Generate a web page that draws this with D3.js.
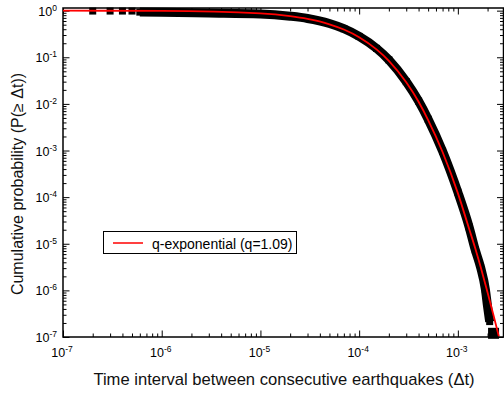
<!DOCTYPE html>
<html>
<head>
<meta charset="utf-8">
<script src="https://cdn.jsdelivr.net/npm/d3@7"></script>
<style>
  body { margin: 0; background: #fff; }
  svg { display: block; font-family: "Liberation Sans", Arial, sans-serif; }
</style>
</head>
<body>
<script>
// isolated squares at the smallest intervals
const sparseT = [2e-7, 3e-7, 4e-7, 5e-7];
const sparseP = [0.98, 0.98, 0.98, 0.98];

// dense part of the data (centre of the black band)
const bandT = [6e-7, 1e-6, 3e-6, 1e-5, 2e-5, 3e-5, 5e-5, 7e-5, 1e-4, 1.5e-4, 2e-4, 3e-4, 4e-4, 5e-4,
  7e-4, 1e-3, 1.3e-3, 1.5e-3, 1.7e-3, 1.9e-3, 2.0e-3, 2.1e-3];
const bandP = [0.93, 0.92, 0.89, 0.85, 0.76, 0.68, 0.53, 0.41, 0.28, 0.155, 0.088, 0.030, 0.0115, 0.0047,
  0.00097, 1.28e-4, 2.3e-5, 7.4e-6, 3.1e-6, 1.05e-6, 4.5e-7, 2.14e-7];

// last point at the bottom
const lastT = [2.3e-3];
const lastP = [1.2e-7];

// q-exponential fit (q = 1.09)
const fitT = [1e-7, 1e-6, 1e-5, 2e-5, 3e-5, 5e-5, 7e-5, 1e-4, 1.5e-4, 2e-4, 3e-4, 4e-4, 5e-4, 7e-4,
  1e-3, 1.3e-3, 1.5e-3, 1.7e-3, 2e-3, 2.3e-3, 2.6e-3];
const fitP = [1.0, 0.986, 0.871, 0.76, 0.664, 0.51, 0.394, 0.27, 0.148, 0.084, 0.029, 0.0111, 0.0045, 0.00093,
  1.22e-4, 2.1e-5, 8.0e-6, 3.2e-6, 9.0e-7, 2.9e-7, 1.04e-7];

const xExps = [-7, -6, -5, -4, -3];
const yExps = [0, -1, -2, -3, -4, -5, -6, -7];
const legendLabel = 'q-exponential (q=1.09)';

const width = 504;
const height = 394;
const margin = { top: 8, right: 0.5, bottom: 57, left: 63 };

const x = d3.scaleLog()
  .domain([1e-7, 2.9e-3])
  .range([margin.left, width - margin.right]);

const y = d3.scaleLog()
  .domain([1e-7, 1.14])
  .range([height - margin.bottom, margin.top]);

const svg = d3.select('body').append('svg')
  .attr('width', width)
  .attr('height', height);

// tick positions
const majorX = xExps.map(e => Math.pow(10, e));
const minorX = [];
for (let e = -7; e <= -3; e++) {
  for (let k = 2; k <= 9; k++) {
    const v = k * Math.pow(10, e);
    if (v <= x.domain()[1]) minorX.push(v);
  }
}
const majorY = yExps.map(e => Math.pow(10, e));
const minorY = [];
for (let e = -7; e <= -1; e++) {
  for (let k = 2; k <= 9; k++) minorY.push(k * Math.pow(10, e));
}

const x0 = margin.left;
const x1 = width - margin.right;
const y0 = height - margin.bottom;
const y1 = margin.top;

function ticks(g, axis) {
  g.call(axis);
  g.select('.domain').remove();
  g.selectAll('line').attr('stroke', '#000').attr('stroke-width', 1);
}

// bottom & top
svg.append('g').attr('transform', `translate(0,${y0})`)
  .call(g => ticks(g, d3.axisBottom(x).tickValues(minorX).tickSize(-3.5).tickFormat('')));
svg.append('g').attr('transform', `translate(0,${y0})`)
  .call(g => ticks(g, d3.axisBottom(x).tickValues(majorX).tickSize(-6.5).tickFormat('')));
svg.append('g').attr('transform', `translate(0,${y1})`)
  .call(g => ticks(g, d3.axisTop(x).tickValues(minorX).tickSize(-3.5).tickFormat('')));
svg.append('g').attr('transform', `translate(0,${y1})`)
  .call(g => ticks(g, d3.axisTop(x).tickValues(majorX).tickSize(-6.5).tickFormat('')));

// left & right
svg.append('g').attr('transform', `translate(${x0},0)`)
  .call(g => ticks(g, d3.axisLeft(y).tickValues(minorY).tickSize(-3.5).tickFormat('')));
svg.append('g').attr('transform', `translate(${x0},0)`)
  .call(g => ticks(g, d3.axisLeft(y).tickValues(majorY).tickSize(-6.5).tickFormat('')));
svg.append('g').attr('transform', `translate(${x1},0)`)
  .call(g => ticks(g, d3.axisRight(y).tickValues(minorY).tickSize(-3.5).tickFormat('')));
svg.append('g').attr('transform', `translate(${x1},0)`)
  .call(g => ticks(g, d3.axisRight(y).tickValues(majorY).tickSize(-6.5).tickFormat('')));

svg.append('rect')
  .attr('x', x0).attr('y', y1)
  .attr('width', x1 - x0).attr('height', y0 - y1)
  .attr('fill', 'none')
  .attr('stroke', '#000')
  .attr('stroke-width', 1.5);

// tick labels
svg.append('g').selectAll('text')
  .data(xExps)
  .join('text')
  .attr('x', d => x(Math.pow(10, d)) - 1)
  .attr('y', 357)
  .attr('text-anchor', 'middle')
  .attr('font-size', 12.5)
  .call(t => t.append('tspan').text('10'))
  .call(t => t.append('tspan').attr('dy', -5).attr('font-size', 8.5).text(d => '-' + Math.abs(d)));

svg.append('g').selectAll('text')
  .data(yExps)
  .join('text')
  .attr('x', 57)
  .attr('y', d => y(Math.pow(10, d)) + 5)
  .attr('text-anchor', 'end')
  .attr('font-size', 12.5)
  .call(t => t.append('tspan').text('10'))
  .call(t => t.append('tspan').attr('dy', -5).attr('font-size', 8.5).text(d => (d < 0 ? '-' : '') + Math.abs(d)));

// axis titles
svg.append('text')
  .attr('x', 284)
  .attr('y', 385)
  .attr('text-anchor', 'middle')
  .attr('font-size', 16.6)
  .attr('fill', '#111')
  .text('Time interval between consecutive earthquakes (\u0394t)');

svg.append('text')
  .attr('transform', 'translate(22.5,184) rotate(-90)')
  .attr('text-anchor', 'middle')
  .attr('font-size', 16)
  .attr('fill', '#111')
  .text('Cumulative probability (P(\u2265 \u0394t))');

// data
const band = bandT.map((t, i) => [t, bandP[i]]);
const sparse = sparseT.map((t, i) => [t, sparseP[i]]);
const last = lastT.map((t, i) => [t, lastP[i]]);
const fit = fitT.map((t, i) => [t, fitP[i]]);

const line = d3.line()
  .x(d => x(d[0]))
  .y(d => y(d[1]))
  .curve(d3.curveMonotoneX);

svg.append('path')
  .datum(band)
  .attr('d', line)
  .attr('fill', 'none')
  .attr('stroke', '#000')
  .attr('stroke-width', 9)
  .attr('stroke-linejoin', 'round');

const sq = 7;
svg.append('g').selectAll('rect')
  .data(sparse.concat(band))
  .join('rect')
  .attr('x', d => x(d[0]) - sq / 2)
  .attr('y', d => y(d[1]) - sq / 2)
  .attr('width', sq)
  .attr('height', sq)
  .attr('fill', '#000');

svg.append('g').selectAll('rect')
  .data(last)
  .join('rect')
  .attr('x', d => x(d[0]) - 5.5)
  .attr('y', d => y(d[1]) - 5.5)
  .attr('width', 11)
  .attr('height', 11)
  .attr('fill', '#000');

svg.append('path')
  .datum(fit)
  .attr('d', line)
  .attr('fill', 'none')
  .attr('stroke', '#ff0000')
  .attr('stroke-width', 1.8);

// legend
const lg = svg.append('g');
lg.append('rect')
  .attr('x', 103.5).attr('y', 231.5)
  .attr('width', 193).attr('height', 22)
  .attr('fill', '#fff')
  .attr('stroke', '#000')
  .attr('stroke-width', 1);
lg.append('line')
  .attr('x1', 113).attr('x2', 143)
  .attr('y1', 243).attr('y2', 243)
  .attr('stroke', '#ff0000')
  .attr('stroke-width', 1.5);
lg.append('text')
  .attr('x', 152).attr('y', 248.5)
  .attr('font-size', 14)
  .text(legendLabel);
</script>
</body>
</html>
